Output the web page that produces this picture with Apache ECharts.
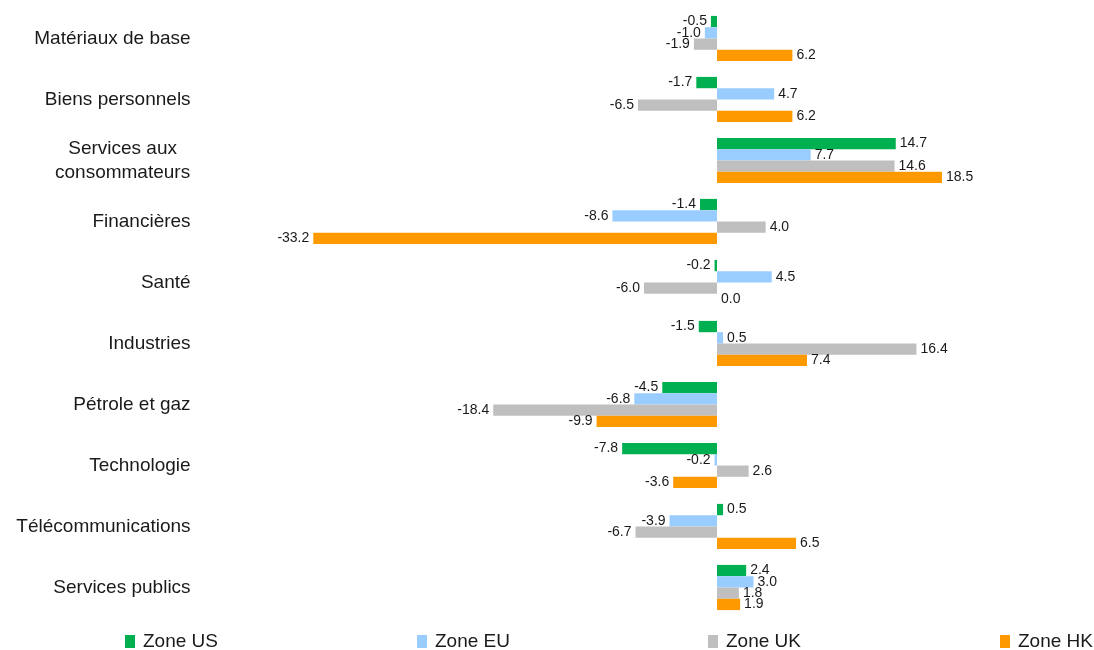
<!DOCTYPE html>
<html>
<head>
<meta charset="utf-8">
<script src="https://cdn.jsdelivr.net/npm/echarts@6/dist/echarts.min.js"></script>
<style>html,body{margin:0;padding:0;background:#fff}#c{width:1094px;height:650px}</style>
</head>
<body>
<div id="c"></div>
<script>
const categories = ["Matériaux de base","Biens personnels","Services aux\nconsommateurs","Financières","Santé","Industries","Pétrole et gaz","Technologie","Télécommunications","Services publics"];
const seriesNames = ["Zone US","Zone EU","Zone UK","Zone HK"];
const zoneUS = [-0.5,-1.7,14.7,-1.4,-0.2,-1.5,-4.5,-7.8,0.5,2.4];
const zoneEU = [-1.0,4.7,7.7,-8.6,4.5,0.5,-6.8,-0.2,-3.9,3.0];
const zoneUK = [-1.9,-6.5,14.6,4.0,-6.0,16.4,-18.4,2.6,-6.7,1.8];
const zoneHK = [6.2,6.2,18.5,-33.2,0.0,7.4,-9.9,-3.6,6.5,1.9];
const colors = ["#00B050","#99CCFF","#BFBFBF","#FF9900"];
const allData = [zoneUS,zoneEU,zoneUK,zoneHK];
const FONT = 'Liberation Sans, Arial, sans-serif';

const chart = echarts.init(document.getElementById('c'));
const series = allData.map((arr,i)=>({
  name: seriesNames[i],
  type: 'bar',
  barWidth: 11.3,
  barGap: '0%',
  itemStyle: {color: colors[i]},
  data: arr.map(v=>({value:v,label:{position: v<0?'left':'right'}})),
  label: {show:true, fontSize:14, color:'#1a1a1a', fontFamily:FONT, distance:4,
    formatter: p=>p.value.toFixed(1)}
}));
const legendLefts = [125,417,708,1000];
chart.setOption({
  animation:false,
  grid:{left:230.6, right:12.2, top:8, bottom:32, containLabel:false},
  xAxis:{type:'value', min:-40, max:30, show:false},
  yAxis:{type:'category', data:categories, inverse:true,
    axisLine:{show:false}, axisTick:{show:false},
    axisLabel:{fontSize:19, color:'#1a1a1a', fontFamily:FONT, margin:40, align:'right', lineHeight:24,
      formatter: v => v.indexOf('\n')>=0 ? v.split('\n').map(s=>'{c|'+s+'}').join('\n') : v,
      rich:{c:{fontSize:19, color:'#1a1a1a', fontFamily:FONT, width:136, align:'center', lineHeight:24}}}},
  legend: seriesNames.map((n,i)=>({data:[n], left:legendLefts[i], top:632, padding:0, itemWidth:10, itemHeight:13, itemGap:6,
    icon:'rect', textStyle:{fontSize:19, color:'#1a1a1a', fontFamily:FONT, padding:[0,0,0,3]}})),
  series
});
</script>
</body>
</html>
